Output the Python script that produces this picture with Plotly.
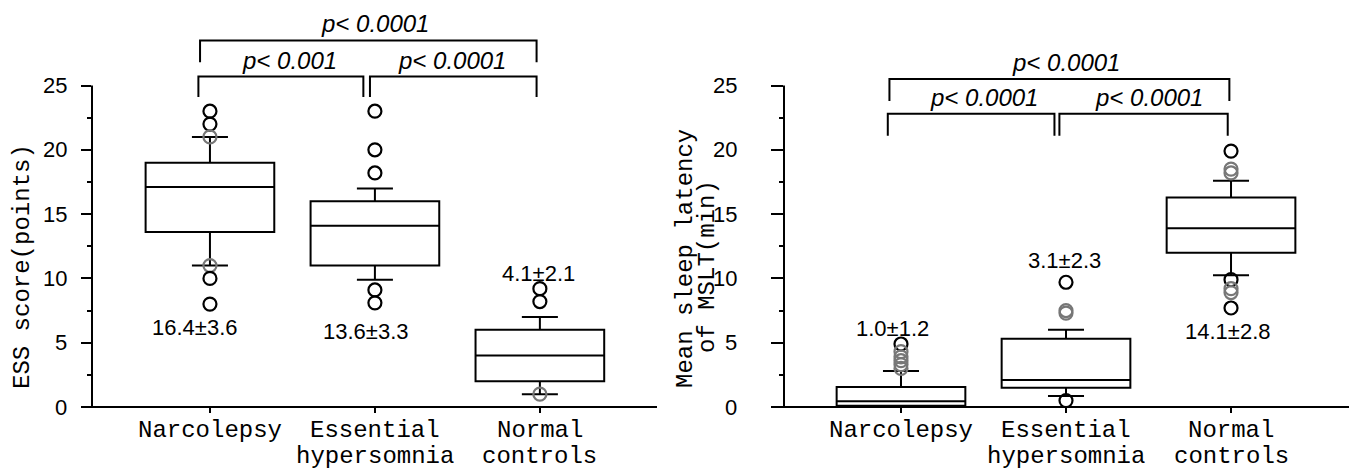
import plotly.graph_objects as go

categories = ["Narcolepsy", "Essential\nhypersomnia", "Normal\ncontrols"]

# Left panel: ESS score (points)
ess_q1 = [13.6, 11.0, 2.0]
ess_median = [17.1, 14.1, 4.0]
ess_q3 = [19.0, 16.0, 6.0]
ess_lower = [11.0, 9.9, 1.0]
ess_upper = [21.0, 17.0, 7.0]
ess_outliers = [[23, 22, 21, 11, 10, 8], [23, 20, 18.2, 9.1, 8.1], [9.2, 8.2, 1.0]]
ess_stats = ["16.4±3.6", "13.6±3.3", "4.1±2.1"]
ess_pvalues = ["p< 0.001", "p< 0.0001", "p< 0.0001"]  # pairs (0,1), (1,2), (0,2)

# Right panel: mean sleep latency of MSLT (min)
mslt_q1 = [0.1, 1.5, 12.0]
mslt_median = [0.45, 2.1, 13.9]
mslt_q3 = [1.55, 5.3, 16.3]
mslt_lower = [0.0, 0.85, 10.25]
mslt_upper = [2.8, 6.0, 17.6]
mslt_outliers = [[4.9, 4.3, 3.9, 3.6, 3.3, 3.0], [9.7, 7.5, 7.3, 0.5],
                 [19.9, 18.5, 18.2, 9.9, 9.2, 8.9, 7.7]]
mslt_stats = ["1.0±1.2", "3.1±2.3", "14.1±2.8"]
mslt_pvalues = ["p< 0.0001", "p< 0.0001", "p< 0.0001"]

y_ticks = [0, 5, 10, 15, 20, 25]
y_minor = [2.5, 7.5, 12.5, 17.5, 22.5]

SANS = "Liberation Sans, Arial, sans-serif"
MONO = "Liberation Mono, DejaVu Sans Mono, monospace"

# the page body has an 8px margin: size the figure so it ends at the window edge
OFF = 8
W, H = 1357 - OFF, 469 - OFF
BOTTOM = 407                     # screen row of y = 0
PLOT_H = BOTTOM - OFF
YTOP = PLOT_H / 12.86


def px(X):
    """screen column -> paper x"""
    return (X - OFF) / W


def py(Y):
    """screen row -> paper y"""
    return (BOTTOM - Y) / PLOT_H


dom_left = [px(92), px(657)]
dom_right = [px(784), px(1349)]
xr_left = [-0.715, 2.71]
xr_right = [-0.709, 2.715]

fig = go.Figure()


def add_panel(xa, ya, q1, med, q3, lo, up, outl):
    xs = list(range(len(categories)))
    fig.add_trace(go.Box(
        x=xs, q1=q1, median=med, q3=q3, lowerfence=lo, upperfence=up,
        width=0.78, whiskerwidth=0.28, boxpoints=False,
        fillcolor="white", line=dict(color="black", width=2),
        xaxis=xa, yaxis=ya, showlegend=False, hoverinfo="skip"))
    ox, oy, oc = [], [], []
    for i, vals in enumerate(outl):
        for v in vals:
            close = any(abs(v - w) < 0.5 for w in vals if w != v)
            near_fence = abs(v - lo[i]) < 0.15 or abs(v - up[i]) < 0.15
            ox.append(i)
            oy.append(v)
            oc.append("#777777" if (close or near_fence) else "black")
    fig.add_trace(go.Scatter(
        x=ox, y=oy, mode="markers",
        marker=dict(symbol="circle-open", size=13, color=oc, line=dict(width=2.2)),
        xaxis=xa, yaxis=ya, showlegend=False, hoverinfo="skip", cliponaxis=False))


add_panel("x", "y", ess_q1, ess_median, ess_q3, ess_lower, ess_upper, ess_outliers)
add_panel("x2", "y2", mslt_q1, mslt_median, mslt_q3, mslt_lower, mslt_upper, mslt_outliers)

xaxis_common = dict(
    tickvals=[0, 1, 2], showticklabels=False, ticks="outside", ticklen=5,
    tickwidth=2, tickcolor="black", showline=False, showgrid=False, zeroline=False,
    fixedrange=True)
yaxis_common = dict(
    range=[0, YTOP], tickvals=y_ticks, showticklabels=False, ticks="outside",
    tickwidth=2, tickcolor="black", showline=False, showgrid=False, zeroline=False,
    minor=dict(tickvals=y_minor, ticks="outside", ticklen=4, tickwidth=1.5,
               tickcolor="black", showgrid=False))

fig.update_layout(
    width=W, height=H,
    margin=dict(l=0, r=0, t=0, b=H - PLOT_H, pad=0),
    paper_bgcolor="white", plot_bgcolor="white",
    xaxis=dict(domain=dom_left, range=xr_left, anchor="y", **xaxis_common),
    yaxis=dict(domain=[0, 1], anchor="x", ticklen=10, **yaxis_common),
    xaxis2=dict(domain=dom_right, range=xr_right, anchor="y2", **xaxis_common),
    yaxis2=dict(domain=[0, 1], anchor="x2", ticklen=12, **yaxis_common),
)

shapes = []
annotations = []

# axis lines
for dom in (dom_left, dom_right):
    shapes.append(dict(type="line", xref="paper", yref="paper",
                       x0=dom[0], x1=dom[0], y0=0, y1=25 / YTOP,
                       line=dict(color="black", width=2)))
    shapes.append(dict(type="line", xref="paper", yref="paper",
                       x0=dom[0] - 9 / W, x1=dom[1], y0=0, y1=0,
                       line=dict(color="black", width=2)))

# y tick labels (placed explicitly to match the reference spacing)
for ya, xr in (("y", 69), ("y2", 739)):
    for v in y_ticks:
        annotations.append(dict(xref="paper", yref=ya, x=px(xr), y=v,
                                xanchor="right", yanchor="middle", text=str(v),
                                showarrow=False,
                                font=dict(family=SANS, size=22, color="black")))


def bracket(xa, ya, x0, x1, ytop, yleg):
    shapes.append(dict(type="path", xref=xa, yref=ya,
                       path=f"M {x0},{yleg} L {x0},{ytop} L {x1},{ytop} L {x1},{yleg}",
                       line=dict(color="black", width=2)))


def ptext(xa, ya, x, y, txt):
    annotations.append(dict(xref=xa, yref=ya, x=x, y=y, showarrow=False,
                            text="<i>" + txt.replace("<", "&lt;") + "</i>",
                            font=dict(family=SANS, size=24, color="black")))


# Left brackets
bracket("x", "y", -0.07, 0.93, 25.7, 24.1)
bracket("x", "y", 0.97, 1.98, 25.7, 24.1)
bracket("x", "y", -0.06, 1.98, 28.5, 26.8)
ptext("x", "y", 0.48, 26.95, ess_pvalues[0])
ptext("x", "y", 1.47, 26.95, ess_pvalues[1])
ptext("x", "y", 1.0, 29.8, ess_pvalues[2])

# Right brackets
bracket("x2", "y2", -0.08, 0.93, 22.8, 21.1)
bracket("x2", "y2", 0.96, 1.98, 22.8, 21.1)
bracket("x2", "y2", -0.07, 1.99, 25.5, 23.8)
ptext("x2", "y2", 0.5, 24.1, mslt_pvalues[0])
ptext("x2", "y2", 1.5, 24.1, mslt_pvalues[1])
ptext("x2", "y2", 1.0, 26.8, mslt_pvalues[2])

# mean ± SD labels
left_pos = [(-0.095, 6.2), (-0.06, 5.9), (-0.01, 10.4)]
right_pos = [(-0.05, 6.1), (-0.01, 11.4), (-0.02, 5.9)]
for i, (dx, yy) in enumerate(left_pos):
    annotations.append(dict(xref="x", yref="y", x=i + dx, y=yy, text=ess_stats[i],
                            showarrow=False, font=dict(family=SANS, size=22, color="black")))
for i, (dx, yy) in enumerate(right_pos):
    annotations.append(dict(xref="x2", yref="y2", x=i + dx, y=yy, text=mslt_stats[i],
                            showarrow=False, font=dict(family=SANS, size=22, color="black")))

# category labels (two-line labels, tight line spacing, non-overlapping boxes)
row_y = [430, 456]
for xa in ("x", "x2"):
    for i, cat in enumerate(categories):
        for k, line in enumerate(cat.split("\n")):
            annotations.append(dict(xref=xa, yref="paper", x=i, y=py(row_y[k]),
                                    xanchor="center", yanchor="middle", text=line,
                                    height=26, showarrow=False,
                                    font=dict(family=MONO, size=24, color="black")))

# y-axis titles
annotations.append(dict(xref="paper", yref="paper", x=px(22), y=py(267),
                        xanchor="center", yanchor="middle",
                        text="ESS score(points)", textangle=-90, showarrow=False,
                        font=dict(family=MONO, size=24, color="black")))
annotations.append(dict(xref="paper", yref="paper", x=px(685), y=py(259),
                        xanchor="center", yanchor="middle",
                        text="Mean sleep latency", textangle=-90, showarrow=False,
                        font=dict(family=MONO, size=24, color="black")))
annotations.append(dict(xref="paper", yref="paper", x=px(707), y=py(267),
                        xanchor="center", yanchor="middle",
                        text="of MSLT(min)", textangle=-90, showarrow=False,
                        font=dict(family=MONO, size=24, color="black")))

fig.update_layout(shapes=shapes, annotations=annotations)
fig.write_html("out.html")
